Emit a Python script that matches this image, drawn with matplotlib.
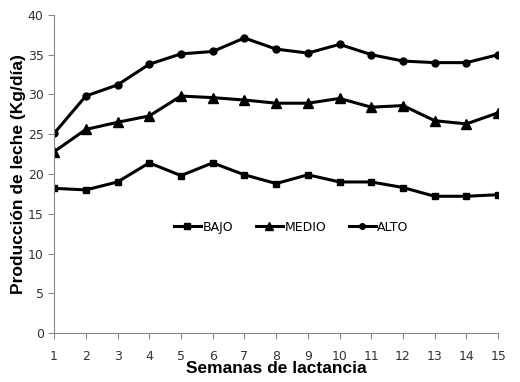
import numpy as np
import matplotlib.pyplot as plt

semanas = np.arange(1, 16)
bajo = [18.2, 18.0, 19.0, 21.4, 19.8, 21.4, 19.9, 18.8, 19.9, 19.0, 19.0, 18.3, 17.2, 17.2, 17.4]
medio = [22.8, 25.6, 26.5, 27.3, 29.8, 29.6, 29.3, 28.9, 28.9, 29.5, 28.4, 28.6, 26.7, 26.3, 27.7]
alto = [25.1, 29.8, 31.2, 33.8, 35.1, 35.4, 37.1, 35.7, 35.2, 36.3, 35.0, 34.2, 34.0, 34.0, 35.0]

fig = plt.figure(figsize=(5.2, 3.82), dpi=100)
ax = fig.add_axes([0.104, 0.128, 0.854, 0.833])

ax.plot(semanas, bajo, color='black', lw=2.2, marker='s', ms=5, label='BAJO')
ax.plot(semanas, medio, color='black', lw=2.2, marker='^', ms=6.5, label='MEDIO')
ax.plot(semanas, alto, color='black', lw=2.2, marker='o', ms=5, label='ALTO')

ax.set_xlim(1, 15)
ax.set_ylim(0, 40)
ax.set_xticks(semanas)
ax.set_yticks(range(0, 41, 5))
for s in ['top', 'right']:
    ax.spines[s].set_visible(False)
for s in ['left', 'bottom']:
    ax.spines[s].set_color('#888888')
ax.tick_params(colors='#888888', labelcolor='#333333', labelsize=9, length=4)
ax.tick_params(axis='x', pad=8)

ax.set_xlabel('Semanas de lactancia', fontsize=12.5, fontweight='bold',
              family='Liberation Sans', labelpad=-1)
ax.set_ylabel('Producción de leche (Kg/día)', fontsize=12.5, fontweight='bold',
              family='Liberation Sans', labelpad=1)

ax.legend(loc='center', bbox_to_anchor=(0.534, 0.333), ncol=3, frameon=False,
          fontsize=9, handlelength=2.2, handletextpad=0.1, columnspacing=1.8,
          markerscale=0.8)

fig.savefig('out.png', dpi=100)
